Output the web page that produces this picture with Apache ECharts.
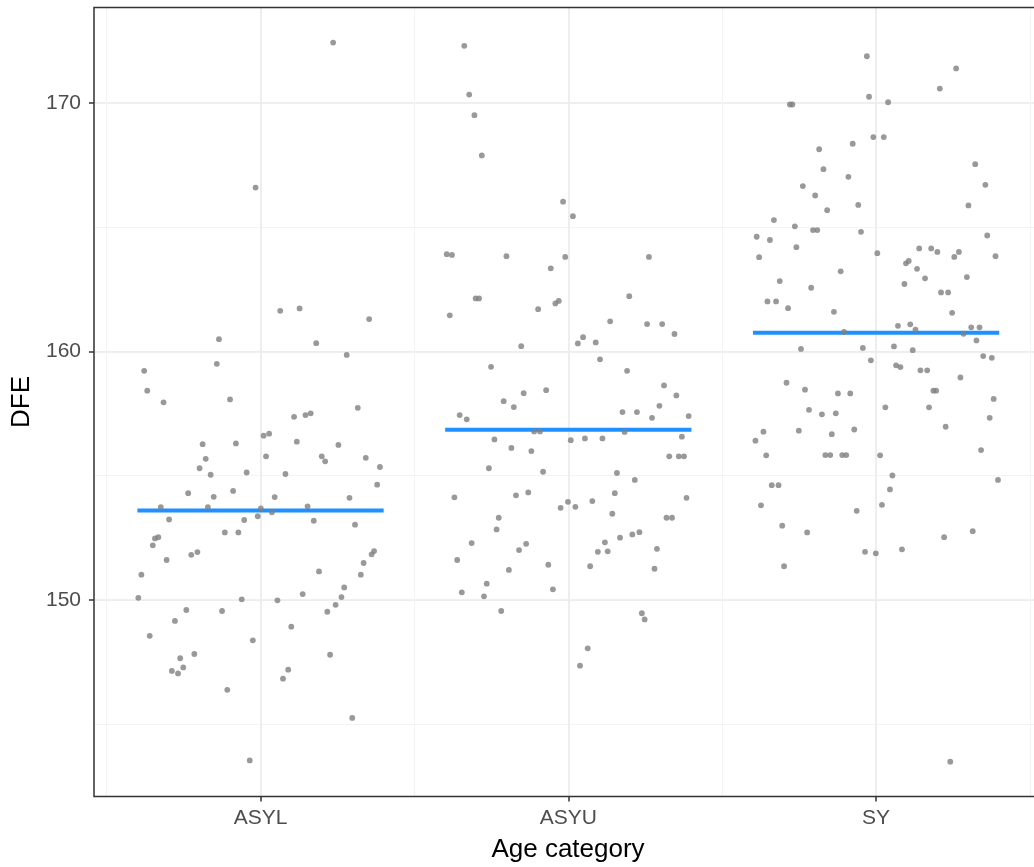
<!DOCTYPE html>
<html>
<head>
<meta charset="utf-8">
<script src="https://cdn.jsdelivr.net/npm/echarts@6/dist/echarts.min.js"></script>
<style>
html,body{margin:0;padding:0;background:#fff;overflow:hidden;}
#chart{width:1034px;height:867px;}
</style>
</head>
<body>
<div id="chart"></div>
<script>
const categories = ['ASYL', 'ASYU', 'SY'];
const yTicks = [150, 160, 170];
const means = [153.6, 156.85, 160.75];

const asylOffset = [0.236,-0.016,0.064,0.127,0.353,-0.135,0.181,0.280,-0.142,-0.378,-0.368,-0.315,-0.099,0.316,0.109,0.146,0.163,0.010,0.028,-0.188,-0.080,0.118,0.253,-0.178,0.018,0.199,0.210,0.342,-0.198,-0.162,-0.045,0.081,0.388,0.379,-0.235,-0.089,-0.152,0.046,0.289,-0.324,-0.171,0.001,0.153,0.037,-0.009,-0.297,-0.053,0.173,0.307,-0.116,-0.072,-0.343,-0.332,-0.350,-0.225,-0.205,-0.305,0.369,0.361,0.335,0.190,0.326,-0.387,0.272,-0.397,-0.061,0.055,0.137,0.263,0.244,0.217,-0.241,-0.125,-0.278,0.100,-0.360,-0.025,-0.215,0.226,-0.261,-0.288,-0.268,-0.251,0.090,0.073,-0.108,0.298,-0.035];
const asylDFE = [172.42,166.59,161.63,161.73,161.30,160.49,160.33,159.86,159.50,159.22,158.42,157.95,158.07,157.73,157.37,157.44,157.51,156.61,156.69,156.27,156.30,156.37,156.24,155.68,155.78,155.78,155.58,155.72,155.30,155.04,155.13,155.07,155.35,154.64,154.30,154.39,154.15,154.14,154.11,153.74,153.74,153.69,153.77,153.53,153.37,153.24,153.22,153.19,153.03,152.72,152.72,152.48,152.53,152.20,151.82,151.93,151.61,151.97,151.84,151.49,151.15,151.02,151.02,150.51,150.09,150.03,149.99,150.24,150.12,149.81,149.53,149.60,149.56,149.16,148.93,148.56,148.38,147.83,147.80,147.66,147.15,147.05,147.29,147.20,146.84,146.39,145.26,143.55];

const asyuOffset = [-0.338,-0.322,-0.305,-0.281,-0.017,0.015,-0.395,-0.378,-0.201,-0.010,0.262,-0.057,0.198,-0.301,-0.290,-0.042,-0.031,-0.385,-0.098,0.136,0.256,0.305,0.345,0.031,0.048,0.089,-0.153,0.103,-0.251,0.191,0.311,0.351,-0.145,-0.072,-0.210,-0.177,0.296,-0.353,-0.330,0.176,0.223,0.272,0.391,-0.111,-0.092,0.183,-0.240,0.008,0.054,0.111,0.369,-0.185,-0.120,0.328,0.359,0.376,-0.258,-0.082,0.158,0.216,-0.370,-0.170,-0.130,0.151,0.384,-0.025,-0.001,0.023,0.078,0.143,-0.226,0.319,0.337,-0.233,-0.314,-0.137,-0.160,0.119,0.096,0.128,0.168,0.208,0.231,0.288,-0.361,-0.065,0.071,-0.193,0.280,-0.265,-0.346,-0.274,-0.050,-0.218,0.239,0.248,0.063,0.038];
const asyuDFE = [172.29,170.33,169.50,167.88,166.02,165.44,163.91,163.88,163.83,163.80,163.80,163.34,162.22,162.13,162.13,161.93,162.03,161.45,161.70,161.21,161.10,161.10,160.70,160.32,160.57,160.36,160.21,159.68,159.38,159.22,158.63,158.23,158.32,158.44,158.00,157.76,157.81,157.44,157.27,157.56,157.56,157.33,157.40,156.78,156.78,156.76,156.46,156.43,156.50,156.50,156.57,156.12,155.99,155.78,155.78,155.78,155.30,155.16,155.11,154.83,154.13,154.21,154.33,154.30,154.11,153.71,153.95,153.75,153.98,153.47,153.31,153.31,153.31,152.84,152.29,152.26,152.01,152.32,151.94,151.96,152.51,152.64,152.73,152.06,151.61,151.42,151.36,151.21,151.26,150.66,150.31,150.15,150.43,149.56,149.47,149.22,148.06,147.36];

const syOffset = [-0.030,0.260,0.207,-0.023,0.039,-0.280,-0.272,-0.009,0.025,-0.076,-0.185,0.322,-0.171,-0.090,0.355,-0.238,-0.198,0.300,-0.058,-0.159,-0.332,-0.264,-0.205,-0.191,-0.049,-0.388,-0.345,0.361,-0.259,-0.380,0.004,0.140,0.179,0.199,0.254,0.269,0.388,0.097,0.106,0.133,-0.115,0.159,0.295,-0.313,0.092,-0.211,0.211,0.234,-0.353,-0.325,-0.286,-0.137,0.247,0.071,0.111,0.128,0.309,0.336,-0.104,0.284,0.326,-0.244,-0.043,0.058,0.119,-0.017,0.348,0.376,0.065,0.079,0.144,0.166,0.274,-0.291,-0.231,-0.124,-0.084,0.186,0.195,0.382,-0.218,-0.176,-0.131,0.030,0.172,0.369,-0.392,-0.366,-0.251,-0.144,-0.071,0.226,-0.357,-0.165,-0.149,-0.110,-0.097,0.013,0.341,-0.339,-0.317,0.053,0.045,0.396,-0.374,-0.063,0.019,-0.305,-0.224,0.221,0.314,-0.036,-0.001,0.084,-0.299,0.241];
const syDFE = [171.87,171.38,170.57,170.24,170.02,169.93,169.93,168.62,168.62,168.35,168.13,167.53,167.33,167.02,166.70,166.65,166.27,165.87,165.89,165.68,165.28,165.03,164.88,164.88,164.81,164.61,164.48,164.66,164.19,163.79,163.95,164.14,164.14,164.00,163.80,164.00,163.83,163.54,163.64,163.32,163.22,162.94,162.99,162.83,162.71,162.56,162.37,162.37,162.01,162.01,161.74,161.59,161.55,161.03,161.09,160.87,160.97,160.97,160.78,160.71,160.44,160.10,160.14,160.20,160.05,159.64,159.81,159.74,159.44,159.37,159.24,159.24,158.95,158.74,158.46,158.31,158.31,158.42,158.42,158.09,157.65,157.47,157.51,157.75,157.75,157.33,156.41,156.77,156.81,156.67,156.86,156.97,155.82,155.83,155.83,155.83,155.83,155.82,156.03,154.62,154.62,155.01,154.45,154.83,153.81,153.59,153.83,152.99,152.72,152.53,152.77,151.94,151.88,152.04,151.36,143.50];

const groups = [[asylOffset, asylDFE], [asyuOffset, asyuDFE], [syOffset, syDFE]];

const X_MIN = 0.459, X_MAX = 3.539;
const Y_MIN = 142.1, Y_MAX = 173.83;
const HALF = 0.4;
const FONT = 'Liberation Sans, Arial, Helvetica, sans-serif';

const pointSeries = groups.map((g, i) => ({
  type: 'scatter',
  xAxisIndex: 1, yAxisIndex: 1,
  data: g[0].map((o, k) => [i + 1 + o, g[1][k]]),
  symbol: 'circle',
  symbolSize: 5.8,
  itemStyle: { color: '#7F7F7F' },
  z: 5,
  silent: true
}));

const meanSeries = means.map((m, i) => ({
  type: 'line',
  xAxisIndex: 1, yAxisIndex: 1,
  data: [[i + 1 - HALF, m], [i + 1 + HALF, m]],
  symbol: 'none',
  lineStyle: { color: '#1E90FF', width: 4, cap: 'butt' },
  z: 3,
  silent: true
}));

const chart = echarts.init(document.getElementById('chart'), null, { renderer: 'canvas' });
chart.setOption({
  animation: false,
  backgroundColor: '#ffffff',
  grid: {
    left: 94, top: 7.5, right: -8, bottom: 70.5,
    outerBoundsMode: 'none', containLabel: false,
    show: true, borderColor: '#333333', borderWidth: 1.5,
    backgroundColor: 'transparent', z: 10
  },
  xAxis: [
    {
      type: 'value', position: 'bottom', min: X_MIN, max: X_MAX,
      minInterval: 0.5, maxInterval: 0.5,
      axisLine: { show: false }, axisTick: { show: false }, axisLabel: { show: false },
      splitLine: { show: true, lineStyle: { color: '#F3F3F3', width: 1 } }
    },
    {
      type: 'value', position: 'bottom', min: X_MIN, max: X_MAX,
      minInterval: 1, maxInterval: 1,
      axisLine: { show: false },
      axisTick: { show: true, length: 5, lineStyle: { color: '#333333', width: 1.5 }, customValues: [1, 2, 3] },
      axisLabel: {
        show: true, margin: 11, color: '#4D4D4D', fontSize: 21, fontFamily: FONT,
        customValues: [1, 2, 3],
        formatter: v => (Math.abs(v - Math.round(v)) < 1e-6 && v >= 1 && v <= 3) ? categories[Math.round(v) - 1] : ''
      },
      splitLine: { show: true, lineStyle: { color: '#EBEBEB', width: 1.6 } },
      name: 'Age category', nameLocation: 'middle', nameGap: 40,
      nameTextStyle: { color: '#000000', fontSize: 26, fontFamily: FONT }
    }
  ],
  yAxis: [
    {
      type: 'value', position: 'left', min: Y_MIN, max: Y_MAX,
      minInterval: 5, maxInterval: 5,
      axisLine: { show: false }, axisTick: { show: false }, axisLabel: { show: false },
      splitLine: { show: true, lineStyle: { color: '#F3F3F3', width: 1 } }
    },
    {
      type: 'value', position: 'left', min: Y_MIN, max: Y_MAX,
      minInterval: 10, maxInterval: 10,
      axisLine: { show: false },
      axisTick: { show: true, length: 5, lineStyle: { color: '#333333', width: 1.5 }, customValues: yTicks },
      axisLabel: {
        show: true, margin: 13, color: '#4D4D4D', fontSize: 21, fontFamily: FONT,
        customValues: yTicks,
        formatter: v => yTicks.indexOf(Math.round(v * 1000) / 1000) >= 0 ? String(v) : ''
      },
      splitLine: { show: true, lineStyle: { color: '#EBEBEB', width: 1.6 } },
      name: 'DFE', nameLocation: 'middle', nameGap: 56, nameRotate: 90,
      nameTextStyle: { color: '#000000', fontSize: 26, fontFamily: FONT }
    }
  ],
  series: meanSeries.concat(pointSeries)
});
</script>
</body>
</html>
